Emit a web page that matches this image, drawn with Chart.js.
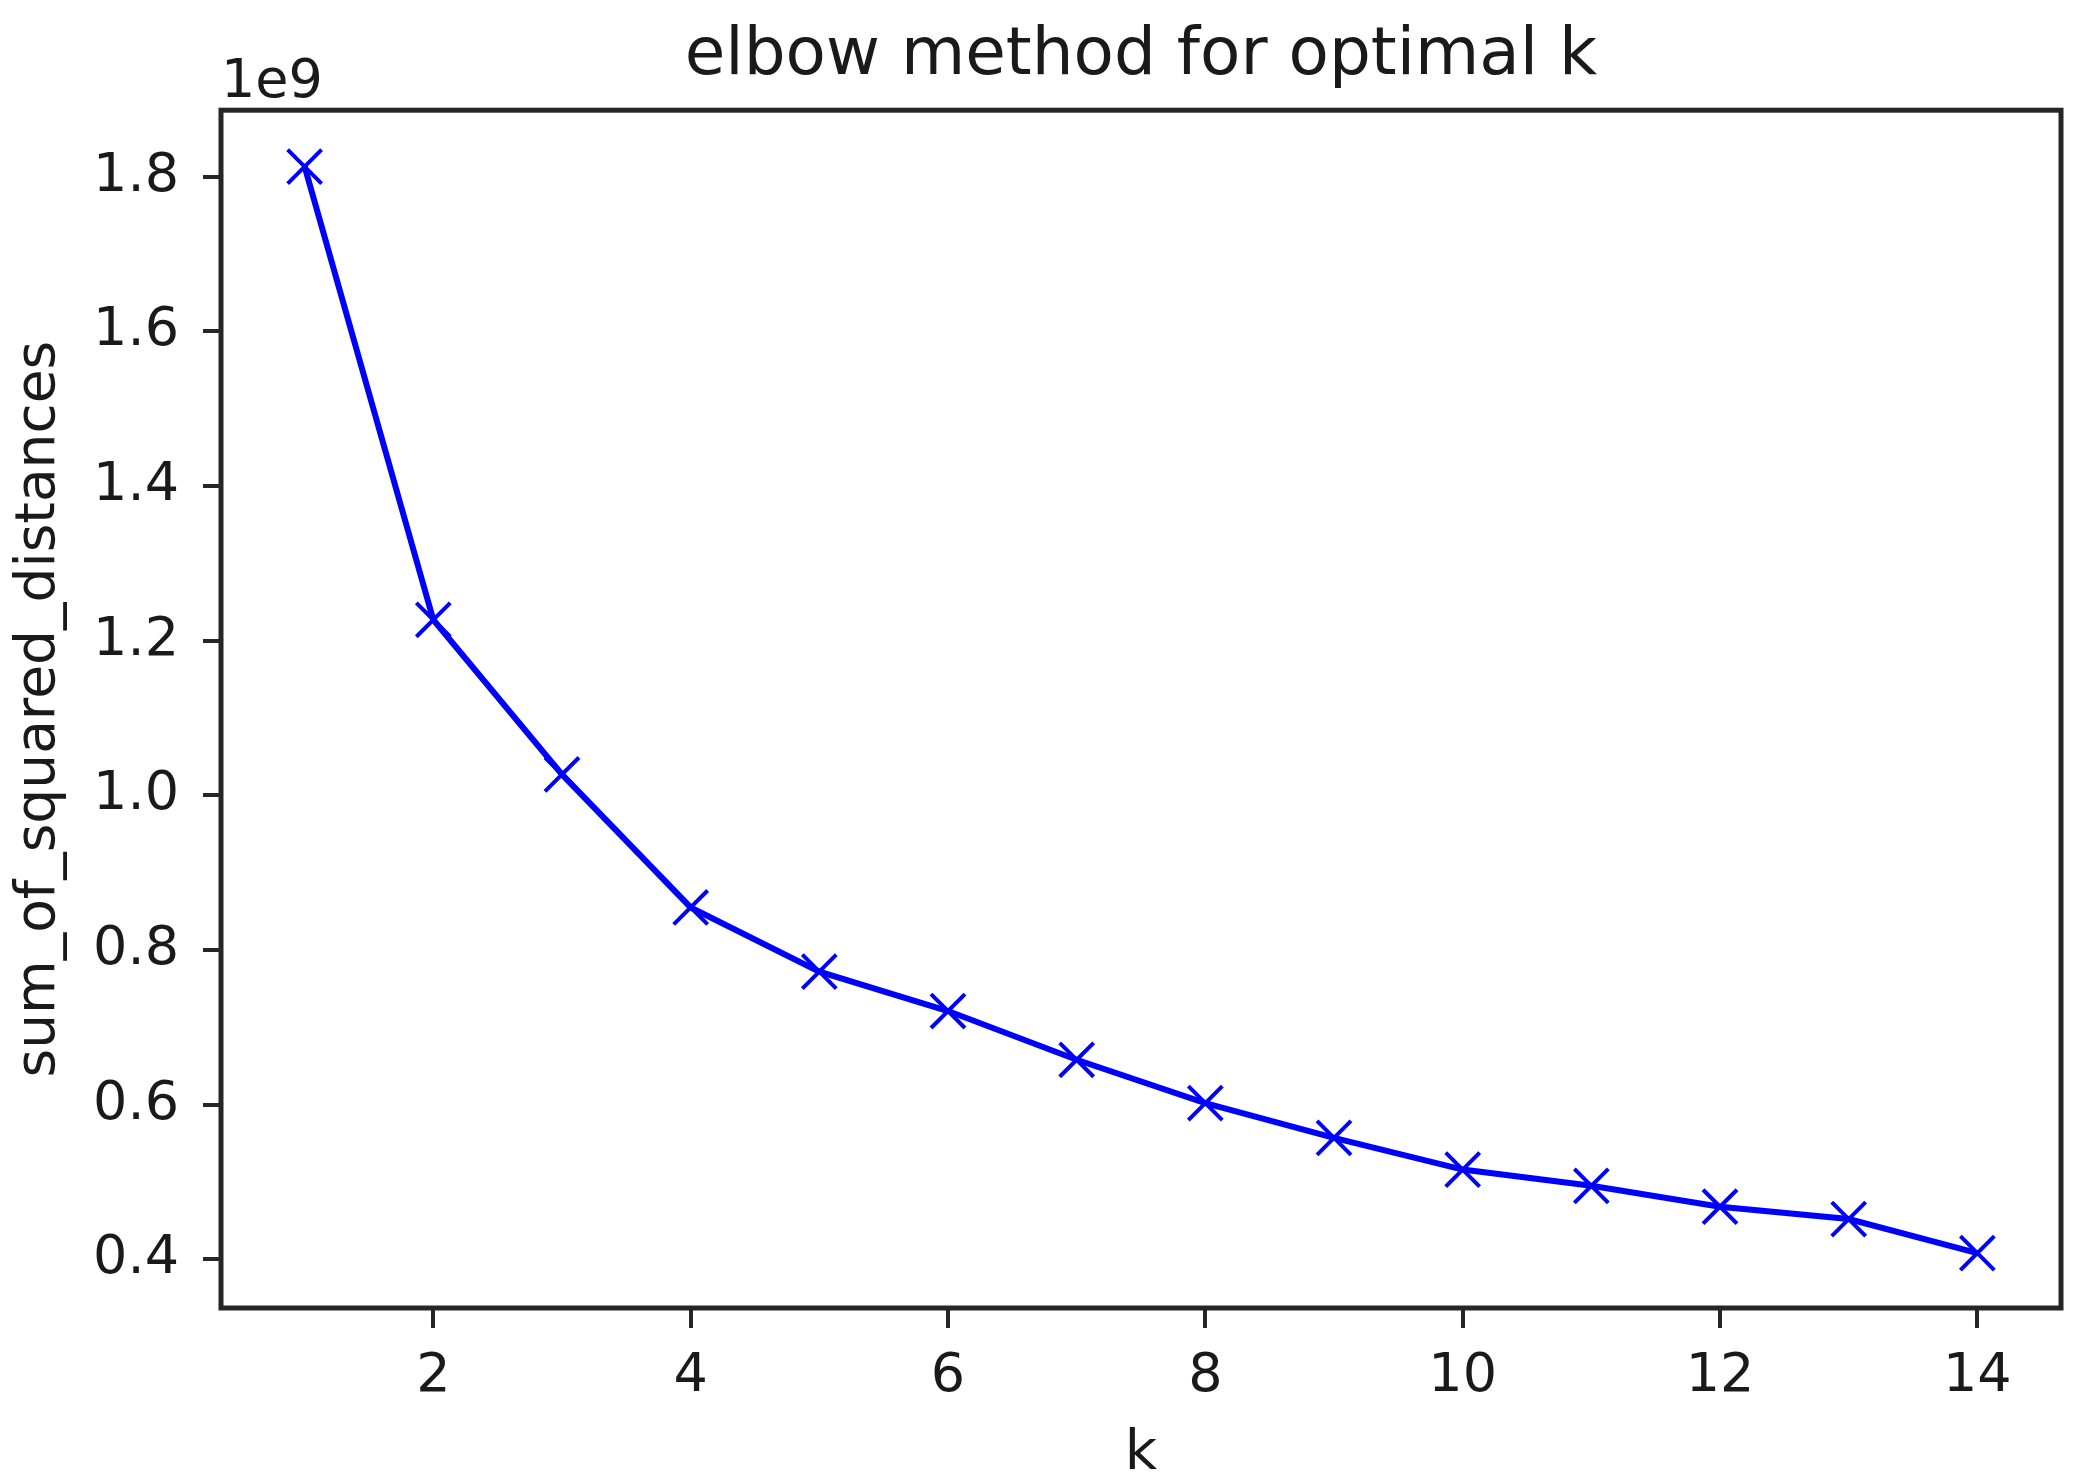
<!DOCTYPE html>
<html>
<head>
    <style>
        body {
            margin: 0;
            padding: 0;
            background-color: #ffffff;
        }
        canvas {
            display: block;
        }
    </style>
</head>
<body>
    <canvas id="elbowChart" width="2075" height="1479"></canvas>

    <script src="https://cdn.jsdelivr.net/npm/chart.js"></script>

    <script>
// values, y in units of 1e9
const kValues = [1, 2, 3, 4, 5, 6, 7, 8, 9, 10, 11, 12, 13, 14];
const sumOfSquaredDistances = [1.813, 1.227, 1.027, 0.855, 0.772, 0.721, 0.658, 0.602, 0.557, 0.516, 0.495, 0.468, 0.452, 0.408];
const xTickValues = [2, 4, 6, 8, 10, 12, 14];
const yTickValues = [0.4, 0.6, 0.8, 1.0, 1.2, 1.4, 1.6, 1.8];
const yOffsetText = '1e9';

const fontFamily = "'DejaVu Sans', sans-serif";
const axisColor = '#262626';
const textColor = '#1a1a1a';

// matplotlib style: full box round the axes + offset text above the y axis
const framePlugin = {
    id: 'frame',
    afterDraw(chart) {
        const { ctx, chartArea } = chart;
        ctx.save();
        ctx.strokeStyle = axisColor;
        ctx.lineWidth = 5;
        ctx.strokeRect(chartArea.left, chartArea.top,
            chartArea.right - chartArea.left, chartArea.bottom - chartArea.top);
        ctx.fillStyle = textColor;
        ctx.font = `54px ${fontFamily}`;
        ctx.textAlign = 'left';
        ctx.textBaseline = 'alphabetic';
        ctx.fillText(yOffsetText, chartArea.left, chartArea.top - 13);
        ctx.restore();
    }
};

const ctx = document.getElementById('elbowChart').getContext('2d');
new Chart(ctx, {
    type: 'line',
    data: {
        datasets: [{
            data: kValues.map((k, i) => ({ x: k, y: sumOfSquaredDistances[i] })),
            borderColor: '#0000ff',
            borderWidth: 6,
            pointStyle: 'crossRot',
            pointRadius: 24,
            pointBorderWidth: 4,
            pointBorderColor: '#0000ff',
            pointBackgroundColor: '#0000ff',
            tension: 0,
            fill: false
        }]
    },
    options: {
        responsive: false,
        animation: false,
        events: [],
        layout: {
            autoPadding: false,
            padding: { left: 0, right: 14, top: 0, bottom: 0 }
        },
        plugins: {
            legend: { display: false },
            tooltip: { enabled: false },
            title: {
                display: true,
                text: 'elbow method for optimal k',
                fullSize: false,
                color: textColor,
                font: { family: fontFamily, size: 66, weight: 'normal' },
                padding: { top: 17, bottom: 14 }
            }
        },
        scales: {
            x: {
                type: 'linear',
                min: 0.35,
                max: 14.65,
                afterBuildTicks: (scale) => {
                    scale.ticks = xTickValues.map(v => ({ value: v }));
                },
                afterFit: (scale) => {
                    scale.height = 171;
                    scale.paddingLeft = 0;
                    scale.paddingRight = 0;
                },
                border: { display: false },
                grid: {
                    drawOnChartArea: false,
                    drawTicks: true,
                    tickLength: 20,
                    color: axisColor,
                    lineWidth: 4
                },
                ticks: {
                    color: textColor,
                    padding: 17,
                    maxRotation: 0,
                    font: { family: fontFamily, size: 54 },
                    callback: (v) => String(v)
                },
                title: {
                    display: true,
                    text: 'k',
                    color: textColor,
                    font: { family: fontFamily, size: 56 },
                    padding: { top: 0, bottom: -9 }
                }
            },
            y: {
                type: 'linear',
                min: 0.337,
                max: 1.886,
                afterBuildTicks: (scale) => {
                    scale.ticks = yTickValues.map(v => ({ value: v }));
                },
                afterFit: (scale) => {
                    scale.width = 221;
                },
                border: { display: false },
                grid: {
                    drawOnChartArea: false,
                    drawTicks: true,
                    tickLength: 18,
                    color: axisColor,
                    lineWidth: 4
                },
                ticks: {
                    color: textColor,
                    padding: 24,
                    font: { family: fontFamily, size: 54 },
                    callback: (v) => v.toFixed(1)
                },
                title: {
                    display: true,
                    text: 'sum_of_squared_distances',
                    color: textColor,
                    font: { family: fontFamily, size: 55 },
                    padding: { top: 7, bottom: 0 }
                }
            }
        }
    },
    plugins: [framePlugin]
});
    </script>
</body>
</html>
